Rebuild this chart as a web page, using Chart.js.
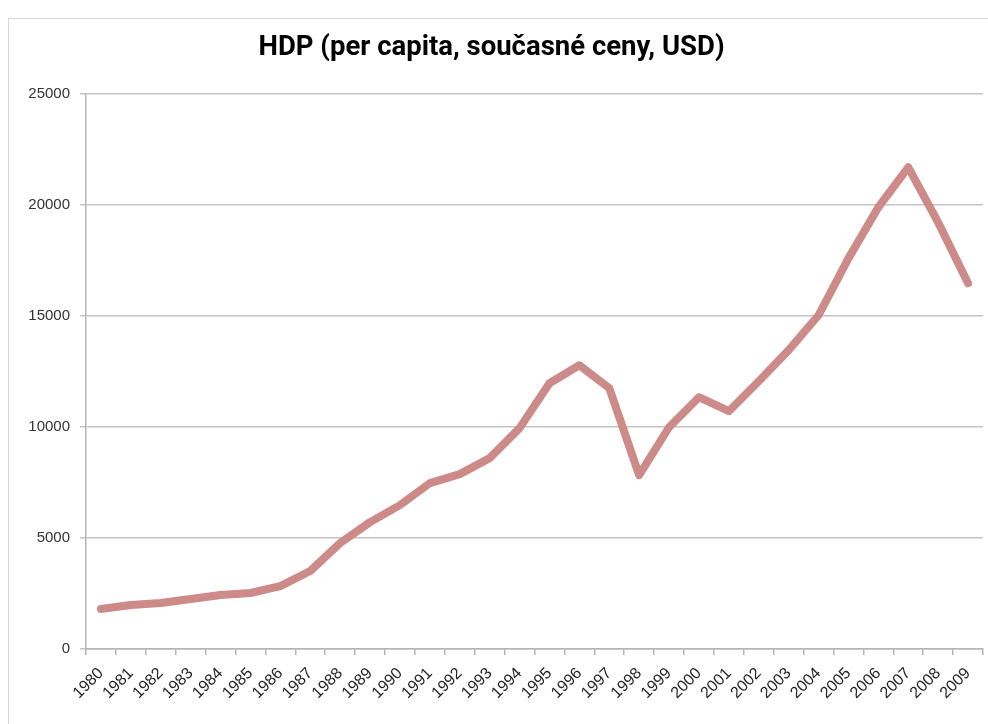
<!DOCTYPE html>
<html>
<head>
<meta charset="utf-8">
<script src="https://cdn.jsdelivr.net/npm/chart.js@4"></script>
<style>
  html, body { margin: 0; padding: 0; background: #fff; }
  #wrap { position: relative; width: 988px; height: 724px; overflow: hidden; }
  #frame { position: absolute; left: 8px; top: 18px; width: 1100px; height: 800px; border: 1px solid #d4d4d4; }
  #chart { position: absolute; left: 0; top: 0; }
</style>
</head>
<body>
<div id="wrap">
  <div id="frame"></div>
  <canvas id="chart" width="988" height="724"></canvas>
</div>
<script>
// HDP per capita, USD
const years = ['1980', '1981', '1982', '1983', '1984', '1985', '1986', '1987', '1988', '1989',
  '1990', '1991', '1992', '1993', '1994', '1995', '1996', '1997', '1998', '1999',
  '2000', '2001', '2002', '2003', '2004', '2005', '2006', '2007', '2008', '2009'];
const gdp = [1800, 1980, 2070, 2250, 2430, 2520, 2830, 3510, 4770, 5710,
  6475, 7465, 7870, 8590, 9940, 11960, 12770, 11740, 7825, 9980,
  11330, 10700, 12050, 13450, 15020, 17580, 19880, 21680, 19200, 16460];
const yTicks = [0, 5000, 10000, 15000, 20000, 25000];
const title = 'HDP (per capita, současné ceny, USD)';

const TFONT = 'Roboto, "Liberation Sans", Arial, sans-serif';
const LBL = '"Liberation Sans", Arial, sans-serif';

new Chart(document.getElementById('chart').getContext('2d'), {
  type: 'line',
  data: {
    labels: years,
    datasets: [{
      data: gdp,
      borderColor: '#cc8a89',
      borderWidth: 8,
      borderCapStyle: 'round',
      borderJoinStyle: 'round',
      pointRadius: 0,
      tension: 0,
      fill: false
    }]
  },
  options: {
    responsive: false,
    animation: false,
    layout: { padding: { left: 0, right: 5, top: 0, bottom: 0 } },
    plugins: {
      legend: { display: false },
      tooltip: { enabled: false },
      title: {
        display: true,
        text: title,
        color: '#000',
        font: { family: TFONT, size: 27.5, weight: 'bold' },
        padding: { top: 32, bottom: 28.5 }
      }
    },
    scales: {
      x: {
        offset: true,
        grid: { display: true, offset: true, drawOnChartArea: false, drawTicks: true, tickLength: 6, color: '#b4b4b4', lineWidth: 1.5 },
        border: { display: true, color: '#b4b4b4', width: 1.5 },
        ticks: { color: '#222', font: { family: LBL, size: 16 }, minRotation: 45, maxRotation: 45, autoSkip: false, padding: 9 },
        afterFit: s => { s.height = 75; s.paddingRight = 0; s.paddingLeft = 0; }
      },
      y: {
        min: 0,
        max: 25000,
        afterBuildTicks: s => { s.ticks = yTicks.map(v => ({ value: v })); },
        grid: { color: '#c4c4c4', lineWidth: 1.5, drawTicks: true, tickLength: 6 },
        border: { display: true, color: '#b4b4b4', width: 1.5 },
        ticks: { color: '#333', font: { family: LBL, size: 15 }, padding: 10, callback: v => String(v) },
        afterFit: s => { s.width = 86; }
      }
    }
  }
});
</script>
</body>
</html>
